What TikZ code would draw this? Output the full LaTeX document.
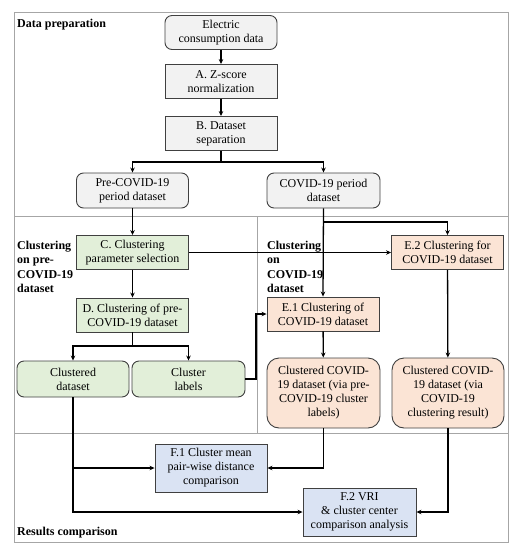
\documentclass[tikz,border=0pt]{standalone}
\usepackage{fontspec}
\setmainfont{Liberation Serif}
\usetikzlibrary{arrows.meta,calc,positioning}
\definecolor{boxgray}{RGB}{242,242,242}
\definecolor{boxgreen}{RGB}{226,239,217}
\definecolor{boxorange}{RGB}{251,228,213}
\definecolor{boxblue}{RGB}{218,227,243}
\definecolor{edgegray}{RGB}{64,64,64}
\tikzset{
  box/.style={draw=edgegray, line width=0.9pt, align=center, inner sep=1pt,
    minimum width=112pt, minimum height=34pt, font=\fontsize{12}{14}\selectfont},
  rbox/.style={box, rounded corners=7pt},
  secttl/.style={font=\fontsize{12}{14.5}\selectfont\bfseries, align=left, inner sep=1pt},
  conn/.style={->, line width=1.3pt},
}
\begin{document}
\begin{tikzpicture}[x=1pt, y=-1pt, >={Stealth[length=5pt,width=4.5pt]}]
  \useasboundingbox (0,0) rectangle (518,550);
  % frame and sections
  \draw[gray!70, line width=0.8pt] (14,12) rectangle (508,542);
  \draw[gray!70, line width=0.8pt] (14,216) -- (508,216);
  \draw[gray!70, line width=0.8pt] (14,433) -- (508,433);
  \draw[gray!70, line width=0.8pt] (257,216) -- (257,433);
  \node[secttl, anchor=west] (tprep) at (16,24.5) {Data preparation};
  \node[secttl, anchor=west] (tpre) at (16,267) {Clustering\\on pre-\\COVID-19\\dataset};
  \node[secttl, anchor=west] (tcov) at (266,267) {Clustering\\on\\COVID-19\\dataset};
  \node[secttl, anchor=west] (tres) at (16,533) {Results comparison};
  % data preparation
  \node[rbox, fill=boxgray] (elec) at (221,32.5) {Electric\\consumption data};
  \node[box, fill=boxgray] (zscore) at (221,81.5) {A. Z-score\\normalization};
  \node[box, fill=boxgray] (sep) at (221,133.5) {B. Dataset\\separation};
  \node[rbox, fill=boxgray, minimum height=35pt] (pre) at (132.5,190.5) {Pre-COVID-19\\period dataset};
  \node[rbox, fill=boxgray, minimum width=113pt, minimum height=35pt] (covid) at (323.5,190.5) {COVID-19 period\\dataset};
  % clustering on pre-COVID-19
  \node[box, fill=boxgreen] (param) at (132.5,252.5) {C. Clustering\\parameter selection};
  \node[box, fill=boxgreen] (clpre) at (132.5,315) {D. Clustering of pre-\\COVID-19 dataset};
  \node[rbox, fill=boxgreen, minimum height=36pt] (cdata) at (73,379) {Clustered\\dataset};
  \node[rbox, fill=boxgreen, minimum width=113pt, minimum height=36pt] (clabel) at (188.5,379) {Cluster\\labels};
  % clustering on COVID-19
  \node[box, fill=boxorange] (eone) at (323,314) {E.1 Clustering of\\COVID-19 dataset};
  \node[box, fill=boxorange] (etwo) at (447.5,252.5) {E.2 Clustering for\\COVID-19 dataset};
  \node[rbox, fill=boxorange, minimum width=113pt, minimum height=70pt, rounded corners=12pt] (cvpre) at (323.5,393) {Clustered COVID-\\19 dataset (via pre-\\COVID-19 cluster\\labels)};
  \node[rbox, fill=boxorange, minimum width=112pt, minimum height=70pt, rounded corners=12pt] (cvcov) at (448,393) {Clustered COVID-\\19 dataset (via\\COVID-19\\clustering result)};
  % results comparison
  \node[box, fill=boxblue, minimum height=48pt] (fone) at (211,468) {F.1 Cluster mean\\pair-wise distance\\comparison};
  \node[box, fill=boxblue, minimum width=113pt, minimum height=48pt] (ftwo) at (359.5,512) {F.2 VRI\\\& cluster center\\comparison analysis};
  % connectors
  \coordinate (splitb) at (221,162);
  \coordinate (splitd) at (132.5,346);
  \coordinate (splitc) at (323.5,222);
  \coordinate (lbend) at (256,379);
  \draw[conn] (elec) -- (zscore);
  \draw[conn] (zscore) -- (sep);
  \draw[line width=1.3pt] (sep) -- (splitb);
  \draw[conn] (splitb) -| (pre);
  \draw[conn] (splitb) -| (covid);
  \draw[conn] (pre) -- (param);
  \draw[conn] (param) -- (clpre);
  \draw[line width=1.3pt] (clpre) -- (splitd);
  \draw[conn] (splitd) -| (cdata);
  \draw[conn] (splitd) -| (clabel);
  \draw[conn] (param.east) -- (etwo.west);
  \draw[conn] (covid.south) -- (eone.north);
  \draw[conn] (splitc) -| (etwo.north);
  \draw[conn] (clabel.east) -- (lbend) |- (eone.west);
  \draw[conn] (eone) -- (cvpre);
  \draw[conn] (etwo) -- (cvcov);
  \draw[conn] (cdata.south) |- (fone.west);
  \draw[conn] (cdata.south) |- (ftwo.west);
  \draw[conn] (cvpre.south) |- (fone.east);
  \draw[conn] (cvcov.south) |- (ftwo.east);
\end{tikzpicture}
\end{document}
